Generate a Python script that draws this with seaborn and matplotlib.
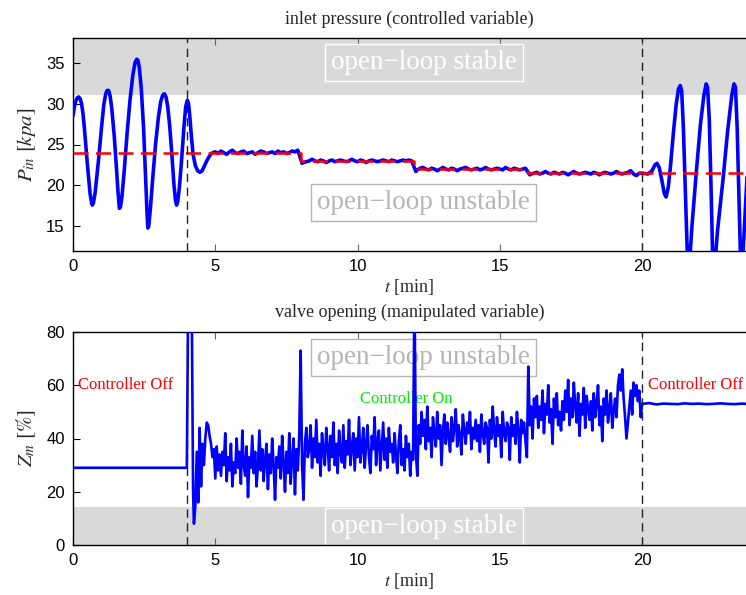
import numpy as np
import pandas as pd
import matplotlib
matplotlib.use("Agg")
import matplotlib.pyplot as plt
import seaborn as sns

# ---------------- data ----------------
# inlet pressure, oscillating part (controller off) and recovery
p_osc_t = [0.0, 0.05, 0.1, 0.15, 0.2, 0.25, 0.3, 0.35, 0.4, 0.5, 0.6, 0.65, 0.68, 0.72, 0.78, 0.9,
           1.0, 1.08, 1.15, 1.2, 1.25, 1.3, 1.36, 1.45, 1.52, 1.58, 1.63, 1.67, 1.72, 1.8, 1.9,
           2.0, 2.1, 2.18, 2.24, 2.28, 2.33, 2.4, 2.48, 2.55, 2.6, 2.63, 2.66, 2.72, 2.8, 2.9,
           3.0, 3.08, 3.15, 3.21, 3.27, 3.33, 3.4, 3.48, 3.55, 3.6, 3.64, 3.68, 3.74, 3.82, 3.9,
           3.96, 4.02, 4.06, 4.1, 4.16, 4.22, 4.3, 4.38, 4.46, 4.54, 4.62, 4.7, 4.78, 4.86, 4.92]
p_osc_v = [28.5, 29.6, 30.3, 30.7, 30.8, 30.6, 30.0, 28.8, 27.0, 22.8, 19.0, 17.9, 17.6, 17.9, 19.2, 23.2,
           27.0, 29.8, 31.2, 31.6, 31.6, 31.0, 29.5, 26.0, 22.5, 19.3, 17.2, 17.4, 18.6, 21.8, 26.3,
           30.3, 33.4, 35.0, 35.4, 35.3, 34.4, 31.8, 27.0, 21.0, 16.8, 14.8, 15.0, 17.2, 20.8, 25.0,
           28.3, 30.2, 31.0, 31.2, 30.8, 29.6, 27.2, 23.5, 20.0, 18.2, 17.6, 18.0, 19.8, 23.3, 27.2,
           29.6, 30.4, 30.0, 28.6, 26.0, 23.8, 22.4, 21.8, 21.6, 21.8, 22.4, 23.0, 23.5, 23.9, 24.0]
# plateau samples (every 0.1 min)
p_pl1_v = [24.1, 23.9, 24.2, 24.0, 23.8, 24.1, 24.3, 24.0, 23.9, 24.1, 24.2, 23.9, 24.0, 24.1, 23.8,
           24.0, 24.2, 24.1, 23.9, 24.0, 24.1, 23.9, 24.2, 24.0, 24.1, 23.9, 24.0, 24.2, 24.1, 24.3]
p_pl2_v = [22.7, 22.8, 22.9, 23.0, 23.2, 23.0, 22.9, 23.1, 23.0, 22.8, 23.0, 23.1, 22.9, 23.0, 23.1,
           23.0, 22.9, 23.0, 23.2, 23.0, 22.9, 23.1, 23.0, 22.8, 23.0, 23.1, 23.0, 22.9, 23.0, 23.1,
           23.0, 22.9, 23.1, 23.0, 22.9, 23.0, 23.1, 23.0, 23.1, 23.0]
p_pl3_v = [21.7, 21.9, 22.1, 22.2, 22.0, 21.9, 22.1, 22.0, 21.8, 22.0, 22.2, 22.0, 21.9, 22.1, 22.0,
           21.8, 22.0, 22.1, 22.2, 22.0, 21.9, 22.0, 22.1, 21.9, 22.0, 22.2, 22.0, 21.9, 22.0, 22.1,
           22.0, 21.9, 22.2, 22.0, 21.9, 22.1, 22.0, 21.9, 22.0, 22.1]
p_pl4_v = [21.3, 21.4, 21.5, 21.6, 21.4, 21.5, 21.7, 21.5, 21.4, 21.6, 21.5, 21.4, 21.6, 21.5, 21.3,
           21.5, 21.7, 21.5, 21.4, 21.5, 21.6, 21.5, 21.4, 21.6, 21.5, 21.3, 21.5, 21.6, 21.5, 21.4,
           21.5, 21.7, 21.5, 21.4, 21.5, 21.6, 21.8, 21.4, 21.2, 21.5]
# after controller switched off
p_end_t = [20.0, 20.2, 20.35, 20.45, 20.52, 20.6, 20.7, 20.78, 20.84, 20.92, 21.0, 21.1, 21.2, 21.28,
           21.34, 21.39, 21.45, 21.52, 21.62, 21.75, 21.9, 22.05, 22.17, 22.25, 22.3, 22.36, 22.42,
           22.5, 22.65, 22.85, 23.0, 23.15, 23.23, 23.28, 23.34, 23.4, 23.48, 23.58, 23.7]
p_end_v = [21.5, 21.4, 21.8, 22.5, 22.7, 22.2, 20.5, 19.0, 18.6, 19.8, 22.5, 26.5, 30.0, 31.8,
           32.2, 31.5, 27.0, 19.0, 8.0, 15.0, 21.5, 27.5, 31.0, 32.4, 32.0, 28.0, 20.0,
           8.0, 14.5, 21.0, 26.5, 31.0, 32.4, 32.0, 27.0, 19.0, 8.0, 14.0, 22.0]
# set-point
sp_t = [0, 8, 8, 12, 12, 16, 16, 23.7]
sp_v = [24, 24, 23, 23, 22, 22, 21.5, 21.5]

# valve opening
z_start_t = [0.0, 3.99, 4.0, 4.05, 4.15, 4.17, 4.22, 4.25]
z_start_v = [29, 29, 29, 95, 95, 95, 20, 8]
z_noisy_v = [
    15, 35, 16, 44, 22, 38, 30, 40, 46, 45, 41, 38, 33, 36, 25, 37, 28, 34, 26, 35,
    30, 42, 24, 33, 28, 38, 22, 31, 27, 40, 29, 35, 23, 43, 30, 26, 37, 18, 33, 29,
    41, 27, 35, 22, 30, 43, 28, 36, 24, 32, 38, 21, 34, 27, 40, 30, 17, 33, 29, 37,
    25, 41, 31, 20, 35, 27, 42, 23, 33, 40, 19, 36, 28, 41, 73, 30, 17, 38, 44, 33,
    36, 45, 29, 40, 33, 47, 31, 38, 26, 42, 35, 30, 44, 37, 28, 41, 33, 46, 30, 38,
    27, 43, 35, 31, 45, 29, 39, 34, 47, 30, 37, 42, 28, 40, 33, 48, 31, 36, 44, 29,
    38, 45, 33, 27, 41, 36, 48, 30, 39, 43, 28, 37, 46, 32, 40, 29, 44, 35, 38, 31,
    42, 34, 27, 39, 45, 30, 36, 28, 41, 33, 38, 26, 35, 32, 95, 34, 26, 45, 38, 50,
    41, 47, 36, 52, 39, 44, 33, 48, 42, 37, 50, 40, 45, 30, 43, 49, 38, 46, 41, 35,
    48, 39, 44, 51, 37, 45, 41, 34, 49, 43, 38, 46, 42, 50, 36, 44, 40, 47, 39, 45,
    35, 49, 42, 38, 46, 44, 31, 47, 40, 52, 43, 37, 48, 41, 45, 33, 50, 42, 39, 46,
    44, 32, 48, 41, 45, 38, 50, 43, 31, 47, 42, 46, 39, 33, 67, 45, 52, 40, 55, 48,
    56, 44, 52, 47, 58, 42, 53, 49, 60, 46, 51, 38, 55, 48, 57, 45, 50, 43, 54, 47,
    58, 50, 62, 45, 55, 48, 61, 52, 46, 57, 41, 53, 49, 59, 44, 56, 51, 47, 54, 43,
    57, 48, 53, 60, 45, 52, 39, 55, 49, 58, 46, 51, 57, 44, 50, 55, 48, 60, 64, 58,
    66, 55, 48, 40, 46, 52, 58, 49, 61, 56, 60, 54, 58, 48]
z_end_t = [20.0, 20.25, 20.5, 20.75, 21.0, 21.25, 21.5, 21.75, 22.0, 22.25, 22.5, 22.75, 23.0, 23.25, 23.5, 23.7]
z_end_v = [53, 53.3, 52.8, 53.1, 53.0, 52.9, 53.2, 53.0, 53.1, 52.9, 53.0, 53.2, 53.0, 52.9, 53.1, 53.0]

x_ticks = [0, 5, 10, 15, 20]
p_ticks = [15, 20, 25, 30, 35]
z_ticks = [0, 20, 40, 60, 80]

# ---------------- assemble series ----------------
pl1_t = list(np.round(np.arange(len(p_pl1_v)) * 0.1 + 5.0, 3))
pl2_t = [8.05] + list(np.round(np.arange(1, len(p_pl2_v)) * 0.1 + 8.0, 3))
pl3_t = [12.05] + list(np.round(np.arange(1, len(p_pl3_v)) * 0.1 + 12.0, 3))
pl4_t = [16.05] + list(np.round(np.arange(1, len(p_pl4_v)) * 0.1 + 16.0, 3))
p_t = p_osc_t + pl1_t + pl2_t + pl3_t + pl4_t + p_end_t
p_v = p_osc_v + p_pl1_v + p_pl2_v + p_pl3_v + p_pl4_v + p_end_v
df_p = pd.DataFrame({"t": p_t, "P": p_v})
df_sp = pd.DataFrame({"t": sp_t, "P": sp_v})

zn_t = list(np.round(np.arange(len(z_noisy_v)) * 0.05 + 4.30, 3))
z_t = z_start_t + zn_t + z_end_t
z_v = z_start_v + z_noisy_v + z_end_v
df_z = pd.DataFrame({"t": z_t, "Z": z_v})

# ---------------- style ----------------
sns.set_theme(style="white")
plt.rcParams["font.family"] = ["Liberation Sans", "DejaVu Sans"]
plt.rcParams["mathtext.fontset"] = "stix"
serif = ["Liberation Serif", "DejaVu Serif"]

fig = plt.figure(figsize=(7.46, 5.95), dpi=100)
W, H = 746, 595
ax1 = fig.add_axes([73 / W, 1 - 251 / H, (746 - 73) / W, (251 - 38) / H])
ax2 = fig.add_axes([73 / W, 1 - 545 / H, (746 - 73) / W, (545 - 332) / H])

band = "#d9d9d9"
gtxt = "#b5b5b5"
box_fs = 19.5
box_pad = "square,pad=0.22"

# ---- top ----
ax1.axhspan(31, 40, color=band, zorder=0, lw=0)
sns.lineplot(data=df_p, x="t", y="P", ax=ax1, color="#0000ff", lw=2.6,
             sort=False, estimator=None, zorder=3)
sns.lineplot(data=df_sp, x="t", y="P", ax=ax1, color="#ff0000", lw=1.8,
             sort=False, estimator=None, zorder=4, dashes=False, linestyle=(0, (6, 3)))
for xv in (4, 20):
    ax1.axvline(xv, color="#222222", lw=1.0, linestyle=(0, (6, 4)), zorder=5)
ax1.set_xlim(0, 23.65)
ax1.set_ylim(12, 38)
ax1.set_xticks(x_ticks)
ax1.set_yticks(p_ticks)
ax1.text(12.34, 35.0, "open\u2212loop stable", ha="center", va="center", fontsize=box_fs,
         family=serif, color="white", zorder=6,
         bbox=dict(boxstyle=box_pad, fc=band, ec="white", lw=1.0))
ax1.text(12.32, 17.9, "open\u2212loop unstable", ha="center", va="center", fontsize=box_fs,
         family=serif, color=gtxt, zorder=6,
         bbox=dict(boxstyle=box_pad, fc="white", ec=gtxt, lw=1.0))
ax1.set_title("inlet pressure (controlled variable)", family=serif, fontsize=13, pad=10)
ax1.set_xlabel(r"$t$ [min]", family=serif, fontsize=13, labelpad=2)
ax1.set_ylabel(r"$P_{in}\ [kpa]$", fontsize=15, labelpad=6)

# ---- bottom ----
ax2.axhspan(0, 14.3, color=band, zorder=0, lw=0)
sns.lineplot(data=df_z, x="t", y="Z", ax=ax2, color="#0000ff", lw=1.9,
             sort=False, estimator=None, zorder=3)
for xv in (4, 20):
    ax2.axvline(xv, color="#222222", lw=1.0, linestyle=(0, (6, 4)), zorder=5)
ax2.set_xlim(0, 23.65)
ax2.set_ylim(0, 80)
ax2.set_xticks(x_ticks)
ax2.set_yticks(z_ticks)
ax2.text(12.32, 70.3, "open\u2212loop unstable", ha="center", va="center", fontsize=box_fs,
         family=serif, color=gtxt, zorder=2,
         bbox=dict(boxstyle=box_pad, fc="white", ec=gtxt, lw=1.0))
ax2.text(12.34, 6.9, "open\u2212loop stable", ha="center", va="center", fontsize=box_fs,
         family=serif, color="white", zorder=2,
         bbox=dict(boxstyle=box_pad, fc=band, ec="white", lw=1.0))
ax2.text(0.18, 60, "Controller Off", ha="left", va="center", fontsize=12,
         family=serif, color="#ff0000", zorder=6)
ax2.text(20.2, 60, "Controller Off", ha="left", va="center", fontsize=12,
         family=serif, color="#ff0000", zorder=6)
ax2.text(11.7, 55, "Controller On", ha="center", va="center", fontsize=12,
         family=serif, color="#00ee00", zorder=2)
ax2.set_title("valve opening (manipulated variable)", family=serif, fontsize=13, pad=11)
ax2.set_xlabel(r"$t$ [min]", family=serif, fontsize=13, labelpad=2)
ax2.set_ylabel(r"$Z_m\ [\%]$", fontsize=15, labelpad=6)

for ax in (ax1, ax2):
    ax.spines["right"].set_visible(False)
    for s in ("left", "bottom", "top"):
        ax.spines[s].set_color("black")
        ax.spines[s].set_linewidth(1.0)
    ax.tick_params(axis="both", direction="in", length=5, width=0.8, labelsize=12,
                   colors="black", top=True, bottom=True, left=True, right=False, pad=6)
    ax.tick_params(axis="x", colors="#666666", labelcolor="black")
    ax.grid(False)

fig.savefig("out.png", dpi=100)
